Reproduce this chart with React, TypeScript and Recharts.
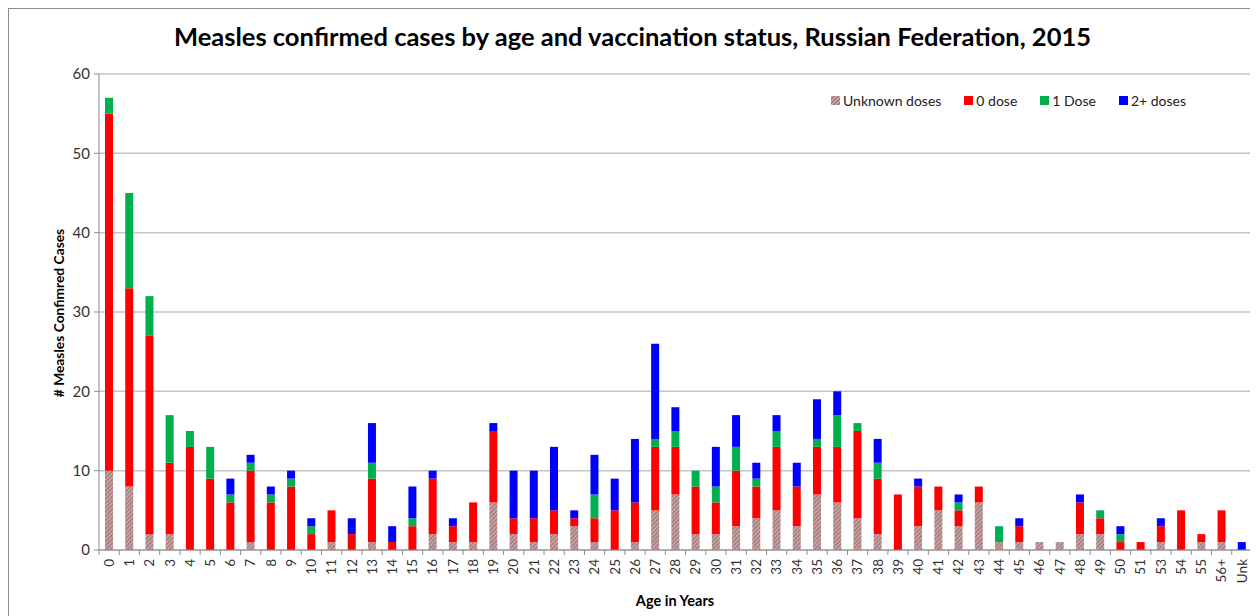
import { BarChart, Bar, XAxis, YAxis, CartesianGrid } from 'recharts';

const ages = [
  '0', '1', '2', '3', '4', '5', '6', '7', '8', '9',
  '10', '11', '12', '13', '14', '15', '16', '17', '18', '19',
  '20', '21', '22', '23', '24', '25', '26', '27', '28', '29',
  '30', '31', '32', '33', '34', '35', '36', '37', '38', '39',
  '40', '41', '42', '43', '44', '45', '46', '47', '48', '49',
  '50', '51', '53', '54', '55', '56+', 'Unk',
];

const unknownDoses = [
  10, 8, 2, 2, 0, 0, 0, 1, 0, 0,
  0, 1, 0, 1, 0, 0, 2, 1, 1, 6,
  2, 1, 2, 3, 1, 0, 1, 5, 7, 2,
  2, 3, 4, 5, 3, 7, 6, 4, 2, 0,
  3, 5, 3, 6, 1, 1, 1, 1, 2, 2,
  0, 0, 1, 0, 1, 1, 0,
];

const zeroDose = [
  45, 25, 25, 9, 13, 9, 6, 9, 6, 8,
  2, 4, 2, 8, 1, 3, 7, 2, 5, 9,
  2, 3, 3, 1, 3, 5, 5, 8, 6, 6,
  4, 7, 4, 8, 5, 6, 7, 11, 7, 7,
  5, 3, 2, 2, 0, 2, 0, 0, 4, 2,
  1, 1, 2, 5, 1, 4, 0,
];

const oneDose = [
  2, 12, 5, 6, 2, 4, 1, 1, 1, 1,
  1, 0, 0, 2, 0, 1, 0, 0, 0, 0,
  0, 0, 0, 0, 3, 0, 0, 1, 2, 2,
  2, 3, 1, 2, 0, 1, 4, 1, 2, 0,
  0, 0, 1, 0, 2, 0, 0, 0, 0, 1,
  1, 0, 0, 0, 0, 0, 0,
];

const twoPlusDoses = [
  0, 0, 0, 0, 0, 0, 2, 1, 1, 1,
  1, 0, 2, 5, 2, 4, 1, 1, 0, 1,
  6, 6, 8, 1, 5, 4, 8, 12, 3, 0,
  5, 4, 2, 2, 3, 5, 3, 0, 3, 0,
  1, 0, 1, 0, 0, 1, 0, 0, 1, 0,
  1, 0, 1, 0, 0, 0, 1,
];

const yTicks = [0, 10, 20, 30, 40, 50, 60];

const data = ages.map((age, i) => ({
  age,
  unknown: unknownDoses[i],
  zero: zeroDose[i],
  one: oneDose[i],
  two: twoPlusDoses[i],
}));

const CHART_W = 1247;
const CHART_H = 607;
const X_AXIS_H = 66;
const margin = { top: 65, right: 4, bottom: 0, left: 40 };
const Y_AXIS_W = 50;
const band = (CHART_W - margin.left - margin.right - Y_AXIS_W) / ages.length;

const FONT = 'Lato, "Open Sans", sans-serif';
const RED = '#ff0000';
const GREEN = '#00b050';
const BLUE = '#0000ff';

const AgeTick = (props: any) => {
  const { x, y, payload, index } = props;
  const half = band / 2;
  return (
    <g>
      <line x1={x - half} x2={x - half} y1={y} y2={y + 5} stroke='#8c8c8c' />
      {index === ages.length - 1 && (
        <line x1={x + half} x2={x + half} y1={y} y2={y + 5} stroke='#8c8c8c' />
      )}
      <text
        transform={`translate(${x},${y + 9}) rotate(-90)`}
        textAnchor='end'
        dy='0.35em'
        fontSize={13.5}
        fill='#333'
        fontFamily={FONT}
      >
        {payload.value}
      </text>
    </g>
  );
};

const legendItems = [
  { label: 'Unknown doses', color: 'hatch' },
  { label: '0 dose', color: RED },
  { label: '1 Dose', color: GREEN },
  { label: '2+ doses', color: BLUE },
];

const hatchSwatch =
  'repeating-linear-gradient(135deg, #e3a2a2 0px, #e3a2a2 1.5px, #8c8080 1.5px, #8c8080 3px)';

export default function App() {
  return (
    <div
      style={{
        position: 'relative',
        width: CHART_W,
        height: 620,
        border: '1px solid #8c8c8c',
        background: '#fff',
        fontFamily: FONT,
      }}
    >
      <div
        style={{
          position: 'absolute',
          top: 12,
          left: 0,
          width: CHART_W,
          textAlign: 'center',
          fontSize: 25.5,
          fontWeight: 700,
          color: '#000',
        }}
      >
        Measles confirmed cases by age and vaccination status, Russian Federation, 2015
      </div>

      <div
        style={{
          position: 'absolute',
          top: 83,
          left: 822,
          display: 'flex',
          alignItems: 'center',
          fontSize: 14,
          color: '#222',
        }}
      >
        {legendItems.map((item) => (
          <div
            key={item.label}
            style={{ display: 'flex', alignItems: 'center', marginRight: 23 }}
          >
            <span
              style={{
                display: 'inline-block',
                width: 9,
                height: 9,
                marginRight: 3,
                background: item.color === 'hatch' ? hatchSwatch : item.color,
              }}
            />
            {item.label}
          </div>
        ))}
      </div>

      <div
        style={{
          position: 'absolute',
          left: 49,
          top: 304,
          transform: 'translate(-50%, -50%) rotate(-90deg)',
          whiteSpace: 'nowrap',
          fontSize: 13.8,
          fontWeight: 700,
          color: '#000',
        }}
      >
        # Measles Confimred Cases
      </div>

      <div
        style={{
          position: 'absolute',
          left: 666,
          top: 591,
          transform: 'translate(-50%, -50%)',
          whiteSpace: 'nowrap',
          fontSize: 14.5,
          fontWeight: 700,
          color: '#000',
        }}
      >
        Age in Years
      </div>

      <BarChart
        width={CHART_W}
        height={CHART_H}
        data={data}
        margin={margin}
        barSize={8}
        style={{ position: 'absolute', top: 0, left: 0 }}
      >
        <defs>
          <pattern
            id='hatch'
            patternUnits='userSpaceOnUse'
            width={3}
            height={3}
            patternTransform='rotate(45)'
          >
            <rect width={3} height={3} fill='#e3a2a2' />
            <rect width={1.5} height={3} fill='#8c8080' />
          </pattern>
        </defs>
        <CartesianGrid vertical={false} stroke='#c4c4c4' strokeWidth={1.5} />
        <XAxis
          dataKey='age'
          interval={0}
          tickLine={false}
          tickSize={0}
          tickMargin={0}
          stroke='#8c8c8c'
          tick={<AgeTick />}
          height={X_AXIS_H}
        />
        <YAxis
          width={Y_AXIS_W}
          domain={[0, 60]}
          ticks={yTicks}
          interval={0}
          stroke='#8c8c8c'
          tickSize={5}
          tickMargin={4}
          tick={{ fill: '#333', fontSize: 15, fontFamily: FONT }}
        />
        <Bar dataKey='unknown' stackId='a' fill='url(#hatch)' isAnimationActive={false} />
        <Bar dataKey='zero' stackId='a' fill={RED} isAnimationActive={false} />
        <Bar dataKey='one' stackId='a' fill={GREEN} isAnimationActive={false} />
        <Bar dataKey='two' stackId='a' fill={BLUE} isAnimationActive={false} />
      </BarChart>
    </div>
  );
}
